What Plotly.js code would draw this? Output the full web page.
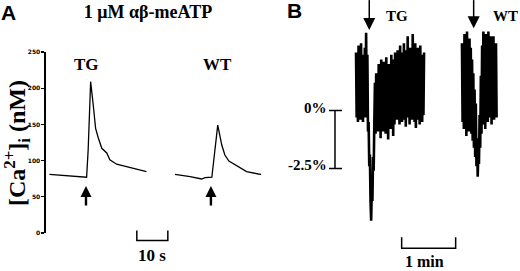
<!DOCTYPE html>
<html><head><meta charset="utf-8">
<script src="https://cdn.plot.ly/plotly-3.0.1.min.js"></script>
<style>html,body{margin:0;padding:0;background:#fff}#chart{width:520px;height:271px}</style>
</head><body><div id="chart"></div>
<script>
// ---------- Panel A: [Ca2+]i (nM) vs time (s) ----------
const tgTimeA = [1.1, 3, 6, 9, 11, 12.6, 13.1, 13.6, 14.4, 15.3, 16.0, 16.9, 18.0, 19.6, 20.6, 22.8, 26.0, 29.3, 32.4];
const tgCaA   = [81, 80.5, 79.5, 79, 78.5, 77.8, 77, 114.6, 209, 174.4, 144.6, 130.8, 117, 110.5, 101, 95, 91.6, 88, 84.7];
const wtTimeA = [41.6, 46.5, 50.2, 51.3, 53.5, 55.4, 56.7, 57.7, 59.0, 61.5, 64.7, 68.5, 69.4];
const wtCaA   = [81, 78, 74.6, 76.4, 77, 149, 121.5, 107.7, 99.4, 92.5, 84.7, 81.5, 81];
const yTicksA = [0, 50, 100, 150, 200, 250];
const agonistTimeA = {TG: 12.9, WT: 53.2};
const arrowTipA = 64.9, arrowTailA = 38, arrowShaftEndA = 58;

// ---------- Panel B: fluorescence change (%) sampled every 0.7 s ----------
const sampleStepB = 0.7;
const tgStartB = 106.7;
const tgPctB = [
  2.5, -0.3, 2.0, -0.5, 2.8, 0.3, 2.2, -0.4, 2.9, 0.1, 2.4, -0.5, 1.9, -0.1, 2.7, -0.3,
  3.35, 0.2,
  2.4, -0.9, -0.5, -2.4, -1.9, -3.9, -4.75, -3.4, -3.9, -2.0, -2.6, -0.6, 1.2, -1.0,
  1.6, -0.6, 1.2, -0.9, 2.0, -0.3, 1.5, -1.2, 2.2, -0.5, 1.4, -0.9, 2.1, -0.2, 1.7, -1.0,
  2.3, -0.6, 1.3, -1.25, 2.0, -0.4, 1.8, -0.8, 2.4, -0.3, 1.6, -1.1, 2.2, -0.6, 2.5,
  -0.1, 1.9, -0.4, 2.6, 0.2, 2.2, -0.6, 2.8, -0.2, 1.8, -0.5, 2.5, 0.0, 2.9, -0.4, 2.0,
  -0.7, 2.6, -0.1, 3.2, -0.3, 1.9, -0.6, 2.7, 0.1, 2.3, -0.4, 3.3, -0.2, 2.0, -0.5, 2.9,
  -0.75, 2.2, 0.0, 2.7, -0.4, 1.9, -0.6, 2.8, -0.1, 2.4, -0.5, 2.0, -0.2, 2.5
];
const wtStartB = 224.4;
const wtPctB = [
  2.9, -0.5, 2.4, -0.8, 3.3, -0.2, 2.6, -1.1, 3.4, -0.4, 2.5, -0.9, 3.1, -0.5,
  2.7, -1.0, 2.2, -1.3, 1.6, -1.6, 0.9, -2.0, 0.3, -2.4, -1.2, -2.85,
  -1.8, -2.3, -0.2, -1.6, 1.5, -1.0, 2.8,
  -0.6, 3.4, -0.1, 2.6, -0.8, 3.3, 0.0, 2.5, -0.5, 3.4, -0.3, 2.7, -0.1, 3.2, -0.6,
  2.4, 0.1, 3.2, -0.4, 2.6, 0.0, 2.9, -0.3
];
const agonistTimeB = {TG: 121.4, WT: 237.4};
const arrowTipB = {TG: 3.47, WT: 3.54};
const arrowTailB = 4.76, arrowShaftEndB = 3.85;

// scale bars
const scaleA = {start: 29.3, seconds: 10, label: '10 s'};
const scaleBx = {start: 157.4, seconds: 60, label: '1 min'};
const scaleBy = {top: 0, bottom: -2.5, topLabel: '0%', bottomLabel: '-2.5%'};

const serif = 'Liberation Serif';
const black = '#000';

function shaft(x, y0, y1, xa, ya, w) {
  return {x: [x, x], y: [y0, y1], xaxis: xa, yaxis: ya, mode: 'lines', line: {color: black, width: w}, hoverinfo: 'skip'};
}
function head(x, y, xa, ya, sym, size) {
  return {x: [x], y: [y], xaxis: xa, yaxis: ya, mode: 'markers', cliponaxis: false,
          marker: {symbol: sym, size: size, color: black, line: {width: 0}}, hoverinfo: 'skip'};
}

const traces = [
  {x: tgTimeA, y: tgCaA, xaxis: 'x', yaxis: 'y', mode: 'lines', line: {color: black, width: 1.3}, hoverinfo: 'skip'},
  {x: wtTimeA, y: wtCaA, xaxis: 'x', yaxis: 'y', mode: 'lines', line: {color: black, width: 1.3}, hoverinfo: 'skip'},
  {y: tgPctB, x0: tgStartB, dx: sampleStepB, xaxis: 'x2', yaxis: 'y2', mode: 'lines', line: {color: black, width: 2.6, simplify: false}, hoverinfo: 'skip'},
  {y: wtPctB, x0: wtStartB, dx: sampleStepB, xaxis: 'x2', yaxis: 'y2', mode: 'lines', line: {color: black, width: 2.6, simplify: false}, hoverinfo: 'skip'},
  shaft(agonistTimeA.TG, arrowTailA, arrowShaftEndA, 'x', 'y', 2.4),
  head(agonistTimeA.TG, arrowTipA, 'x', 'y', 'arrow-up', 11),
  shaft(agonistTimeA.WT, arrowTailA, arrowShaftEndA, 'x', 'y', 2.4),
  head(agonistTimeA.WT, arrowTipA, 'x', 'y', 'arrow-up', 11),
  shaft(agonistTimeB.TG, arrowTailB, arrowShaftEndB, 'x2', 'y2', 1.5),
  head(agonistTimeB.TG, arrowTipB.TG, 'x2', 'y2', 'arrow-down', 12),
  shaft(agonistTimeB.WT, arrowTailB, arrowShaftEndB, 'x2', 'y2', 1.5),
  head(agonistTimeB.WT, arrowTipB.WT, 'x2', 'y2', 'arrow-down', 12)
];

function txt(text, x, y, xref, yref, size, family, extra) {
  return Object.assign({text: text, x: x, y: y, xref: xref, yref: yref, showarrow: false,
    xanchor: 'center', yanchor: 'middle', font: {family: family, size: size, color: black, weight: 700}}, extra || {});
}

const aBarBot = 0.1125, aBarTop = 0.1494;
const bBarBot = 0.0838, bBarTop = 0.1244;
const vx = 0.6442, vx0 = 0.6327, vx1 = 0.6577;

const shapes = [
  {type: 'path', xref: 'x', yref: 'paper', line: {color: black, width: 1.5},
   path: `M${scaleA.start},${aBarTop} L${scaleA.start},${aBarBot} L${scaleA.start + scaleA.seconds},${aBarBot} L${scaleA.start + scaleA.seconds},${aBarTop}`},
  {type: 'path', xref: 'x2', yref: 'paper', line: {color: black, width: 1.5},
   path: `M${scaleBx.start},${bBarTop} L${scaleBx.start},${bBarBot} L${scaleBx.start + scaleBx.seconds},${bBarBot} L${scaleBx.start + scaleBx.seconds},${bBarTop}`},
  {type: 'line', xref: 'paper', yref: 'y2', x0: vx, x1: vx, y0: scaleBy.top, y1: scaleBy.bottom, line: {color: black, width: 1.5}},
  {type: 'line', xref: 'paper', yref: 'y2', x0: vx0, x1: vx1, y0: scaleBy.top, y1: scaleBy.top, line: {color: black, width: 1.5}},
  {type: 'line', xref: 'paper', yref: 'y2', x0: vx0, x1: vx1, y0: scaleBy.bottom, y1: scaleBy.bottom, line: {color: black, width: 1.5}}
];

const annotations = [
  txt('A', 0.0173, 0.9539, 'paper', 'paper', 21, 'Liberation Sans'),
  txt('B', 0.5654, 0.9613, 'paper', 'paper', 21, 'Liberation Sans'),
  txt('[Ca<sup>2+</sup>]<sub>i</sub> (nM)', 0.0337, 0.4705, 'paper', 'paper', 24, serif, {textangle: -90}),
  txt('TG', 13.2, 0.7638, 'x', 'paper', 17, serif),
  txt('WT', 55.2, 0.7638, 'x', 'paper', 17, serif),
  txt(scaleA.label, scaleA.start + scaleA.seconds / 2, 0.059, 'x', 'paper', 17, serif),
  txt('TG', 0.7635, 0.941, 'paper', 'paper', 15, serif),
  txt('WT', 0.9721, 0.941, 'paper', 'paper', 15, serif),
  txt(scaleBx.label, 0.8173, 0.034, 'paper', 'paper', 16, serif),
  txt(scaleBy.topLabel, vx0, scaleBy.top, 'paper', 'y2', 15, serif, {xanchor: 'right', yshift: 3}),
  txt(scaleBy.bottomLabel, vx0, scaleBy.bottom, 'paper', 'y2', 15, serif, {xanchor: 'right', yshift: 4})
];

const layout = {
  width: 520, height: 271,
  margin: {l: 0, r: 0, t: 0, b: 0},
  paper_bgcolor: '#fff', plot_bgcolor: 'rgba(0,0,0,0)',
  showlegend: false,
  title: {text: '1 μM αβ-meATP', x: 0.2846, y: 0.9557, xref: 'paper', yref: 'paper', xanchor: 'center', yanchor: 'middle',
          font: {family: serif, size: 18, color: black, weight: 700}},
  xaxis: {domain: [0.08846, 0.5177], range: [0, 72], visible: false, anchor: 'y', fixedrange: true},
  yaxis: {domain: [0.14022, 0.80812], range: [0, 250], anchor: 'x', showline: true, linecolor: black, linewidth: 1.5,
          ticks: 'outside', ticklen: 3, tickwidth: 1.3, tickcolor: black, tickmode: 'array', tickvals: yTicksA,
          ticktext: yTicksA.map(String), tickfont: {family: 'DejaVu Sans', size: 6, color: black, weight: 700},
          showgrid: false, zeroline: false, fixedrange: true},
  xaxis2: {domain: [0.5, 1], range: [0, 288.89], visible: false, anchor: 'y2', fixedrange: true},
  yaxis2: {domain: [0, 1], range: [-6.918, 4.763], visible: false, anchor: 'x2', fixedrange: true},
  shapes: shapes,
  annotations: annotations
};

Plotly.newPlot('chart', traces, layout, {staticPlot: true, displayModeBar: false});
</script>
</body></html>
